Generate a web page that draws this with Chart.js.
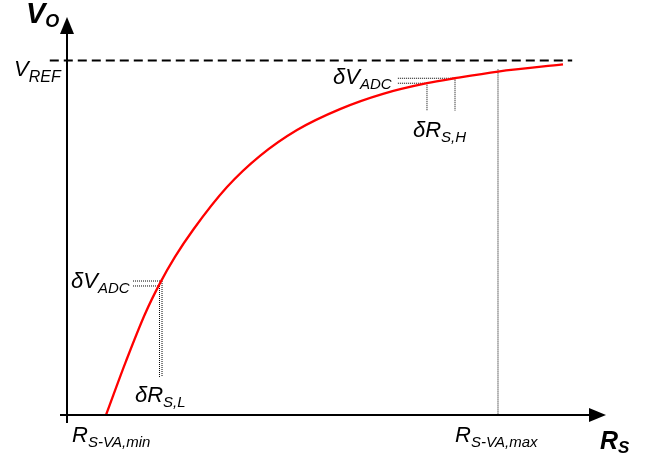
<!DOCTYPE html>
<html>
<head>
<meta charset="utf-8">
<script src="https://cdn.jsdelivr.net/npm/chart.js@4.4.1/dist/chart.umd.min.js"></script>
<style>
  html, body { margin: 0; padding: 0; background: #fff; }
</style>
</head>
<body>
<canvas id="sensorChart" width="652" height="455"></canvas>
<script>
// Transfer curve Vo(Rs): Rs in % of axis length, Vo normalised so VREF = 1
const curveRs = [7.25, 10.97, 14.50, 17.29, 20.07, 23.42, 29.74, 35.87, 42.75, 50.74, 58.74, 66.91, 72.12, 80.11, 92.19];
const curveVo = [0, 0.152, 0.285, 0.372, 0.446, 0.522, 0.643, 0.731, 0.804, 0.863, 0.906, 0.936, 0.950, 0.969, 0.989];

const vref = 1.0;
const vrefRs = [-3.2, 93.9];

const rsMin = 7.25;
const rsMax = 80.11;
const rsMaxVo = 0.975;

// resolution guides at the low end of the range
const lowRs = [17.19, 17.66];
const lowVo = [0.364, 0.378];
const lowLeftRs = 12.27;
const lowBottomVo = 0.107;

// resolution guides at the high end of the range
const highRs = [66.91, 72.12];
const highVo = [0.936, 0.950];
const highLeftRs = 61.5;
const highBottomVo = 0.858;

const FONT = '"Liberation Sans", Arial, sans-serif';

function dotted(points) {
    return {
        data: points,
        showLine: true,
        borderColor: '#000',
        borderWidth: 1,
        borderDash: [1, 1],
        pointRadius: 0,
        clip: false
    };
}

const datasets = [];

// red curve
datasets.push({
    data: curveRs.map((x, i) => ({ x: x, y: curveVo[i] })),
    showLine: true,
    borderColor: '#ff0000',
    borderWidth: 2.3,
    pointRadius: 0,
    cubicInterpolationMode: 'monotone',
    clip: false
});

// VREF dashed line
datasets.push({
    data: vrefRs.map(x => ({ x: x, y: vref })),
    showLine: true,
    borderColor: '#000',
    borderWidth: 2,
    borderDash: [9, 5],
    pointRadius: 0,
    clip: false
});

// guides
lowRs.forEach((x, i) => {
    datasets.push(dotted([{ x: lowLeftRs, y: lowVo[i] }, { x: x, y: lowVo[i] }]));
    datasets.push(dotted([{ x: x, y: lowVo[i] }, { x: x, y: lowBottomVo }]));
});
highRs.forEach((x, i) => {
    datasets.push(dotted([{ x: highLeftRs, y: highVo[i] }, { x: x, y: highVo[i] }]));
    datasets.push(dotted([{ x: x, y: highVo[i] }, { x: x, y: highBottomVo }]));
});
datasets.push(dotted([{ x: rsMax, y: rsMaxVo }, { x: rsMax, y: 0 }]));

// text with a subscript
function label(ctx, x, y, main, sub, size, subSize, bold, drop) {
    const b = bold ? 'bold ' : '';
    ctx.font = 'italic ' + b + size + 'px ' + FONT;
    ctx.fillText(main, x, y);
    const w = ctx.measureText(main).width;
    ctx.font = 'italic ' + b + subSize + 'px ' + FONT;
    ctx.fillText(sub, x + w, y + drop);
}

const axesPlugin = {
    id: 'axesPlugin',
    afterDraw(chart) {
        const ctx = chart.ctx;
        const xs = chart.scales.x, ys = chart.scales.y;
        const x0 = xs.getPixelForValue(0);
        const y0 = ys.getPixelForValue(0);
        const top = chart.chartArea.top;
        const right = chart.chartArea.right;

        ctx.save();
        ctx.strokeStyle = '#000';
        ctx.fillStyle = '#000';
        ctx.lineWidth = 2;

        // y axis
        ctx.beginPath();
        ctx.moveTo(x0, y0 + 8);
        ctx.lineTo(x0, top + 12);
        ctx.stroke();
        ctx.beginPath();
        ctx.moveTo(x0, top - 1);
        ctx.lineTo(x0 - 7, top + 16);
        ctx.lineTo(x0 + 7, top + 16);
        ctx.closePath();
        ctx.fill();

        // x axis
        ctx.beginPath();
        ctx.moveTo(x0 - 7, y0);
        ctx.lineTo(right - 12, y0);
        ctx.stroke();
        ctx.beginPath();
        ctx.moveTo(right + 1, y0);
        ctx.lineTo(right - 16, y0 - 7);
        ctx.lineTo(right - 16, y0 + 7);
        ctx.closePath();
        ctx.fill();

        ctx.textBaseline = 'alphabetic';
        label(ctx, 26, 23, 'V', 'O', 29, 18, true, 4);
        label(ctx, 14, 76, 'V', 'REF', 22, 16, false, 6);
        label(ctx, 333, 84, '\u03b4V', 'ADC', 22, 15, false, 5);
        label(ctx, 413, 137, '\u03b4R', 'S,H', 22, 15, false, 5);
        label(ctx, 71, 288, '\u03b4V', 'ADC', 22, 15, false, 5);
        label(ctx, 135, 402, '\u03b4R', 'S,L', 22, 15, false, 5);
        label(ctx, 72, 442, 'R', 'S-VA,min', 22, 15, false, 5);
        label(ctx, 455, 442, 'R', 'S-VA,max', 22, 15, false, 5);
        label(ctx, 600, 449, 'R', 'S', 25, 17, true, 4);
        ctx.restore();
    }
};

new Chart(document.getElementById('sensorChart'), {
    type: 'scatter',
    data: { datasets: datasets },
    options: {
        responsive: false,
        devicePixelRatio: 1,
        animation: false,
        layout: { padding: { left: 67, right: 47, top: 18, bottom: 40 } },
        plugins: { legend: { display: false }, tooltip: { enabled: false } },
        scales: {
            x: { type: 'linear', min: 0, max: 100, display: false },
            y: { type: 'linear', min: 0, max: 1.12, display: false }
        }
    },
    plugins: [axesPlugin]
});
</script>
</body>
</html>
